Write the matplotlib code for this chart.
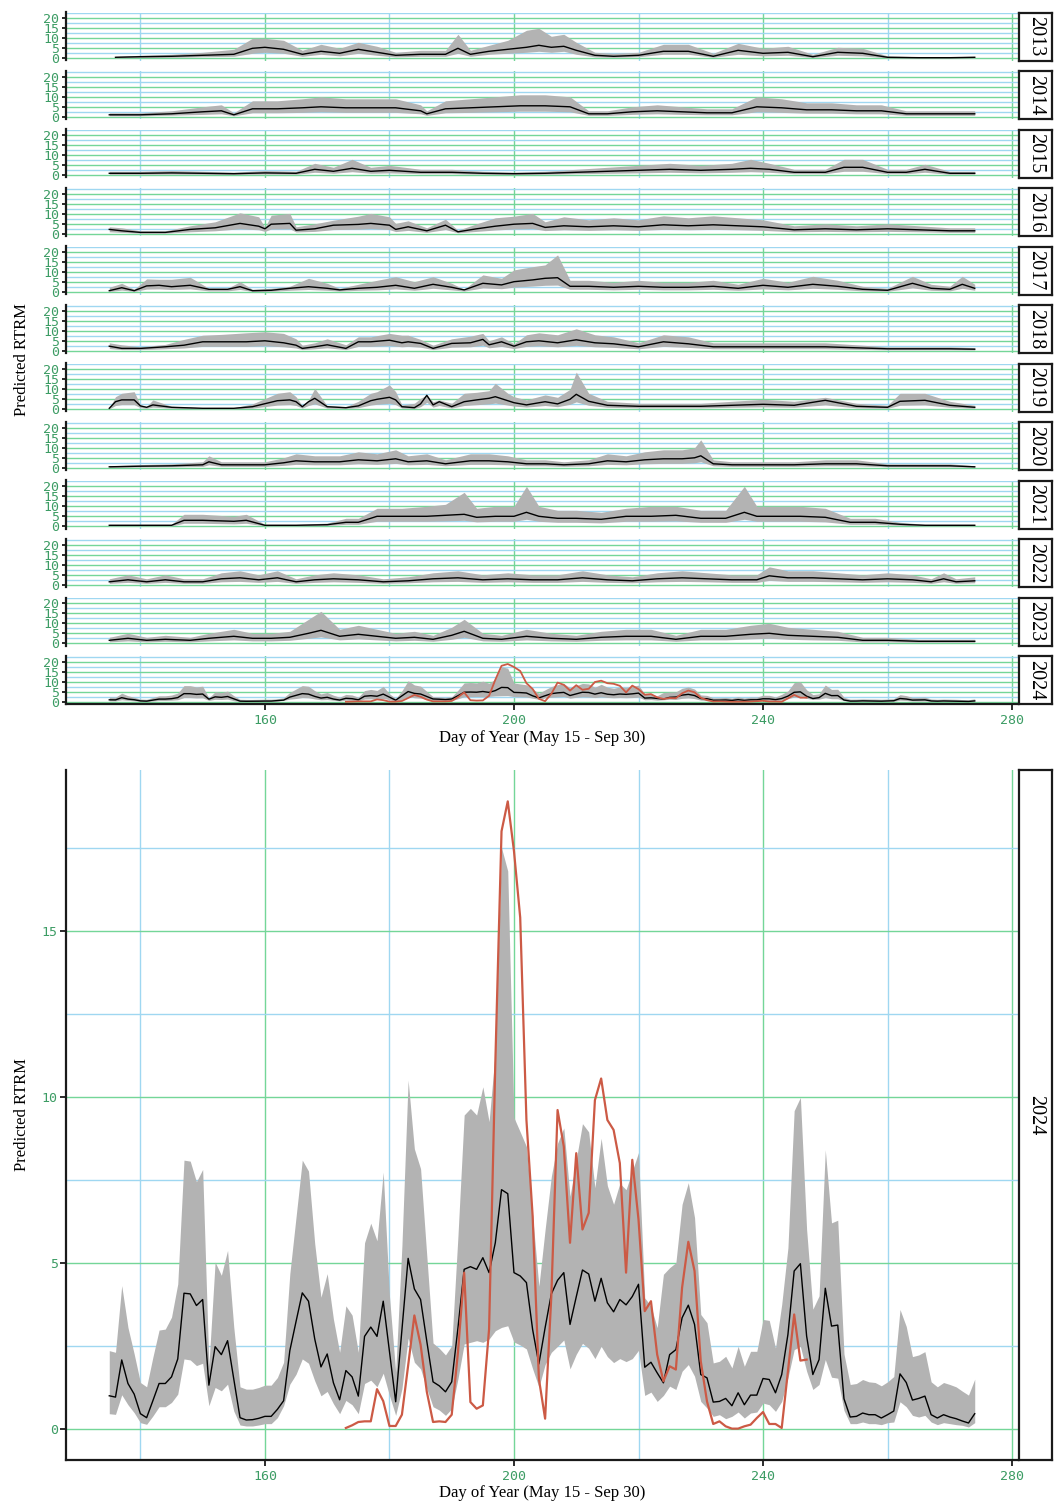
import numpy as np
import matplotlib
matplotlib.use("Agg")
import matplotlib.pyplot as plt

# ---------------- data ----------------
years = [2013, 2014, 2015, 2016, 2017, 2018, 2019, 2020, 2021, 2022, 2023]

d_2013 = [136, 140, 145, 150, 155, 158, 160, 163, 166, 169, 172, 175, 178, 181, 185, 189, 191, 193, 196, 199, 202, 204, 206, 208, 210, 213, 216, 220, 224, 228, 232, 236, 240, 244, 248, 252, 256, 260, 265, 270, 274]
m_2013 = [0.5, 0.8, 1.0, 1.5, 2.0, 5.0, 5.5, 4.5, 2.0, 3.5, 2.5, 4.5, 3.0, 1.5, 2.0, 2.0, 5.0, 2.0, 3.5, 4.5, 5.5, 6.5, 5.5, 6.0, 4.0, 1.5, 1.0, 1.5, 3.5, 3.5, 1.0, 4.0, 2.5, 3.0, 0.8, 3.0, 2.5, 0.5, 0.3, 0.3, 0.5]
l_2013 = [0.2, 0.4, 0.5, 0.8, 1.0, 2.5, 3.0, 2.5, 1.0, 2.0, 1.2, 2.5, 1.5, 0.7, 1.0, 1.0, 2.5, 1.0, 2.0, 2.5, 3.0, 3.5, 3.0, 3.5, 2.0, 0.7, 0.5, 0.8, 2.0, 2.0, 0.5, 2.0, 1.2, 1.5, 0.4, 1.5, 1.2, 0.2, 0.1, 0.1, 0.2]
u_2013 = [1.0, 1.5, 2.0, 3.0, 4.5, 10, 10, 9, 4, 7, 5, 8, 6, 3, 4, 4, 12, 4, 6.5, 9, 14, 15, 11, 12, 8, 3, 2.5, 3, 7, 7, 2.5, 7.5, 5, 6, 2, 5.5, 5, 1.2, 0.8, 0.8, 1.0]

d_2014 = [135, 140, 145, 150, 153, 155, 158, 162, 166, 169, 173, 177, 181, 185, 186, 189, 193, 197, 201, 205, 209, 212, 215, 219, 223, 227, 231, 235, 239, 243, 247, 251, 255, 259, 263, 267, 271, 274]
m_2014 = [1.0, 1.0, 1.5, 2.5, 3.0, 1.0, 4.0, 4.0, 4.5, 5.0, 4.5, 4.5, 4.5, 3.0, 1.5, 4.0, 4.5, 5.0, 5.5, 5.5, 5.0, 1.5, 1.5, 2.5, 3.0, 2.5, 2.0, 2.0, 5.0, 4.5, 3.5, 3.5, 3.0, 3.0, 1.5, 1.5, 1.5, 1.5]
l_2014 = [0.5, 0.5, 0.8, 1.2, 1.5, 0.5, 2.0, 2.0, 2.2, 2.5, 2.2, 2.2, 2.2, 1.5, 0.7, 2.0, 2.2, 2.5, 2.8, 2.8, 2.5, 0.7, 0.7, 1.2, 1.5, 1.2, 1.0, 1.0, 2.5, 2.2, 1.8, 1.8, 1.5, 1.5, 0.7, 0.7, 0.7, 0.7]
u_2014 = [2.0, 2.0, 3.0, 5.0, 6.0, 2.0, 8.0, 8.0, 9.0, 10.0, 9.0, 9.0, 9.0, 6.0, 3.0, 8.0, 9.0, 10.0, 11.0, 11.0, 10.0, 3.0, 3.0, 5.0, 6.0, 5.0, 4.0, 4.0, 10.0, 9.0, 7.0, 7.0, 6.0, 6.0, 3.0, 3.0, 3.0, 3.0]

d_2015 = [135, 140, 145, 150, 155, 160, 165, 168, 171, 174, 177, 180, 185, 190, 195, 200, 205, 210, 215, 220, 225, 230, 235, 238, 241, 245, 250, 253, 256, 260, 263, 266, 270, 274]
m_2015 = [1.0, 1.0, 1.2, 1.0, 0.8, 1.2, 1.0, 3.0, 2.0, 3.5, 2.0, 2.5, 1.5, 1.5, 1.0, 0.8, 1.0, 1.5, 2.0, 2.5, 3.0, 2.5, 3.0, 3.5, 3.0, 1.5, 1.5, 4.0, 4.0, 1.5, 1.5, 3.0, 1.0, 1.0]
l_2015 = [0.5, 0.5, 0.6, 0.5, 0.4, 0.6, 0.5, 1.5, 1.0, 1.8, 1.0, 1.2, 0.8, 0.8, 0.5, 0.4, 0.5, 0.8, 1.0, 1.2, 1.5, 1.2, 1.5, 1.8, 1.5, 0.8, 0.8, 2.0, 2.0, 0.8, 0.8, 1.5, 0.5, 0.5]
u_2015 = [2.0, 2.0, 2.4, 2.0, 1.6, 2.4, 2.0, 6.0, 4.0, 8.0, 4.0, 5.0, 3.0, 3.0, 2.0, 1.6, 2.0, 3.0, 4.0, 5.0, 6.0, 5.0, 6.0, 8.0, 6.0, 3.0, 3.0, 8.0, 8.0, 3.0, 3.0, 5.5, 2.0, 2.0]

d_2016 = [135, 137, 140, 144, 148, 152, 156, 159, 160, 161, 164, 165, 168, 171, 175, 177, 180, 181, 183, 186, 189, 191, 194, 197, 200, 203, 205, 208, 212, 216, 220, 224, 228, 232, 236, 240, 245, 250, 255, 260, 265, 270, 274]
m_2016 = [2.2, 1.5, 0.7, 0.7, 2.2, 3.0, 5.2, 3.8, 2.5, 4.8, 5.2, 1.8, 2.5, 4.3, 4.7, 5.2, 4.3, 2.2, 3.5, 1.5, 4.3, 1.0, 2.5, 3.8, 4.8, 5.2, 3.2, 4.0, 3.5, 4.0, 3.5, 4.5, 4.0, 4.5, 4.0, 3.5, 2.0, 2.5, 2.0, 2.5, 2.0, 1.5, 1.5]
l_2016 = [1.0, 0.7, 0.3, 0.3, 1.0, 1.5, 2.5, 2.0, 1.2, 2.4, 2.5, 0.9, 1.2, 2.1, 2.3, 2.6, 2.1, 1.1, 1.7, 0.7, 2.1, 0.5, 1.2, 1.9, 2.4, 2.6, 1.6, 2.0, 1.7, 2.0, 1.7, 2.2, 2.0, 2.2, 2.0, 1.7, 1.0, 1.2, 1.0, 1.2, 1.0, 0.7, 0.7]
u_2016 = [3.5, 3.0, 1.5, 1.5, 4.0, 6.0, 10.5, 8.5, 3.2, 9.3, 10.2, 3.5, 5.0, 6.8, 8.8, 10.2, 8.5, 5.2, 6.5, 3.0, 7.3, 1.8, 5.0, 8.0, 8.8, 10.2, 6.0, 8.5, 7.0, 8.0, 7.0, 9.0, 8.0, 9.0, 8.0, 7.0, 4.0, 5.0, 4.0, 5.0, 4.0, 3.0, 3.0]

d_2017 = [135, 137, 139, 141, 143, 145, 148, 151, 154, 156, 158, 161, 164, 167, 170, 172, 175, 178, 181, 184, 187, 190, 192, 195, 198, 200, 203, 205, 207, 209, 212, 216, 220, 224, 228, 232, 236, 240, 244, 248, 252, 256, 260, 264, 267, 270, 272, 274]
m_2017 = [0.8, 2.3, 0.8, 3.2, 3.5, 2.8, 3.5, 1.5, 1.5, 2.8, 0.8, 1.0, 2.0, 2.8, 2.0, 1.2, 2.0, 2.5, 3.5, 2.0, 4.0, 2.5, 1.2, 4.5, 3.7, 5.3, 6.2, 7.0, 7.3, 3.0, 3.0, 2.5, 3.0, 2.5, 2.5, 3.0, 2.0, 3.5, 2.5, 4.0, 3.0, 1.5, 1.0, 4.5, 2.0, 1.5, 4.0, 2.0]
l_2017 = [0.4, 1.1, 0.4, 1.6, 1.7, 1.4, 1.7, 0.7, 0.7, 1.4, 0.4, 0.5, 1.0, 1.4, 1.0, 0.6, 1.0, 1.2, 1.7, 1.0, 2.0, 1.2, 0.6, 2.2, 1.8, 2.6, 3.1, 3.5, 3.6, 1.5, 1.5, 1.2, 1.5, 1.2, 1.2, 1.5, 1.0, 1.7, 1.2, 2.0, 1.5, 0.7, 0.5, 2.2, 1.0, 0.7, 2.0, 1.0]
u_2017 = [2.5, 4.5, 1.5, 6.7, 6.5, 6.5, 7.5, 2.0, 2.0, 5.3, 1.5, 2.0, 3.0, 7.0, 4.5, 2.0, 4.0, 6.0, 7.8, 5.3, 7.8, 4.5, 1.5, 8.7, 7.0, 11.2, 12.8, 13.7, 18.7, 6.0, 6.0, 5.0, 6.0, 5.0, 5.0, 6.0, 4.0, 7.0, 5.0, 8.0, 6.0, 3.0, 2.0, 8.0, 4.0, 3.0, 8.0, 4.0]

d_2018 = [135, 137, 140, 144, 147, 150, 153, 157, 160, 163, 165, 166, 168, 170, 173, 175, 177, 180, 182, 183, 185, 187, 190, 193, 195, 196, 198, 200, 202, 204, 207, 210, 213, 216, 220, 224, 228, 232, 236, 240, 245, 250, 255, 260, 265, 270, 274]
m_2018 = [2.3, 1.2, 1.2, 2.0, 2.8, 4.5, 4.5, 4.5, 5.0, 4.0, 2.8, 1.2, 2.0, 3.0, 1.2, 4.5, 4.5, 5.3, 4.0, 4.5, 3.7, 1.2, 3.7, 4.0, 5.7, 3.0, 4.5, 2.3, 4.5, 5.0, 4.0, 5.5, 4.0, 3.5, 2.0, 4.5, 3.5, 2.0, 2.0, 2.0, 2.0, 2.0, 1.5, 1.0, 1.0, 1.0, 0.8]
l_2018 = [1.1, 0.6, 0.6, 1.0, 1.4, 2.2, 2.2, 2.2, 2.5, 2.0, 1.4, 0.6, 1.0, 1.5, 0.6, 2.2, 2.2, 2.6, 2.0, 2.2, 1.8, 0.6, 1.8, 2.0, 2.8, 1.5, 2.2, 1.1, 2.2, 2.5, 2.0, 2.7, 2.0, 1.7, 1.0, 2.2, 1.7, 1.0, 1.0, 1.0, 1.0, 1.0, 0.7, 0.5, 0.5, 0.5, 0.4]
u_2018 = [4.0, 3.0, 2.0, 3.2, 5.7, 7.8, 8.2, 9.0, 9.5, 8.7, 6.0, 2.8, 4.0, 6.0, 3.0, 7.0, 7.0, 8.7, 7.8, 7.8, 5.7, 2.8, 6.0, 7.3, 8.7, 5.0, 7.0, 3.5, 8.0, 9.0, 8.0, 11.0, 8.0, 7.0, 4.0, 8.0, 7.0, 4.0, 4.0, 4.0, 4.0, 4.0, 3.0, 2.0, 2.0, 2.0, 1.6]

d_2019 = [135, 136, 137, 139, 140, 141, 142, 145, 150, 155, 158, 162, 164, 165, 166, 167, 168, 170, 173, 175, 177, 178, 180, 181, 182, 184, 185, 186, 187, 188, 190, 192, 194, 196, 197, 199, 200, 202, 205, 207, 209, 210, 212, 215, 220, 225, 230, 235, 240, 245, 250, 255, 260, 262, 266, 270, 274]
m_2019 = [0.5, 3.8, 4.7, 4.7, 1.7, 1.0, 2.2, 1.0, 0.5, 0.5, 1.3, 4.3, 4.7, 3.8, 1.3, 3.8, 5.5, 1.3, 0.8, 1.7, 4.3, 5.0, 6.0, 4.7, 1.3, 0.8, 2.7, 7.0, 2.2, 3.8, 1.3, 3.8, 4.7, 5.5, 6.3, 4.3, 3.3, 2.2, 3.8, 2.7, 5.0, 7.5, 4.0, 2.0, 1.5, 1.5, 1.5, 2.0, 2.5, 2.0, 4.5, 1.5, 1.0, 4.0, 4.5, 2.0, 1.0]
l_2019 = [0.2, 1.9, 2.3, 2.3, 0.8, 0.5, 1.1, 0.5, 0.2, 0.2, 0.6, 2.1, 2.3, 1.9, 0.6, 1.9, 2.7, 0.6, 0.4, 0.8, 2.1, 2.5, 3.0, 2.3, 0.6, 0.4, 1.3, 3.5, 1.1, 1.9, 0.6, 1.9, 2.3, 2.7, 3.1, 2.1, 1.6, 1.1, 1.9, 1.3, 2.5, 3.7, 2.0, 1.0, 0.7, 0.7, 0.7, 1.0, 1.2, 1.0, 2.2, 0.7, 0.5, 2.0, 2.2, 1.0, 0.5]
u_2019 = [0.5, 6.3, 8.0, 8.8, 2.2, 1.3, 4.7, 1.5, 0.8, 0.8, 2.7, 8.0, 8.8, 6.3, 1.8, 4.5, 10.5, 1.8, 1.3, 4.0, 8.0, 8.8, 12.2, 8.8, 2.2, 3.0, 5.5, 7.2, 3.8, 4.7, 3.0, 8.0, 8.5, 9.3, 13.0, 8.0, 6.3, 4.7, 7.2, 6.0, 10.0, 18.6, 8.0, 4.0, 3.0, 3.0, 3.0, 4.0, 5.0, 4.0, 6.0, 3.0, 2.0, 8.0, 8.0, 4.0, 2.0]

d_2020 = [135, 140, 145, 150, 151, 153, 157, 160, 163, 165, 168, 172, 175, 178, 181, 183, 186, 189, 193, 196, 199, 202, 205, 208, 212, 215, 218, 221, 224, 227, 229, 230, 232, 235, 240, 245, 250, 255, 260, 265, 270, 274]
m_2020 = [0.5, 0.8, 1.0, 1.5, 3.0, 1.5, 1.5, 1.5, 2.5, 3.5, 3.0, 3.0, 4.0, 3.5, 4.5, 3.0, 3.5, 2.0, 3.5, 3.5, 3.0, 2.0, 2.0, 1.5, 2.0, 3.5, 3.0, 4.0, 4.5, 4.5, 5.0, 6.0, 2.0, 1.5, 1.5, 1.5, 2.0, 2.0, 1.0, 1.0, 1.0, 0.5]
l_2020 = [0.2, 0.4, 0.5, 0.7, 1.5, 0.7, 0.7, 0.7, 1.2, 1.7, 1.5, 1.5, 2.0, 1.7, 2.2, 1.5, 1.7, 1.0, 1.7, 1.7, 1.5, 1.0, 1.0, 0.7, 1.0, 1.7, 1.5, 2.0, 2.2, 2.2, 2.5, 3.0, 1.0, 0.7, 0.7, 0.7, 1.0, 1.0, 0.5, 0.5, 0.5, 0.2]
u_2020 = [1.0, 1.6, 2.0, 3.0, 6.0, 3.0, 3.0, 3.0, 5.0, 7.0, 6.0, 6.0, 8.0, 7.0, 9.0, 6.0, 7.0, 4.0, 7.0, 7.0, 6.0, 4.0, 4.0, 3.0, 4.0, 7.0, 6.0, 8.0, 9.0, 9.0, 10.0, 14.0, 4.0, 3.0, 3.0, 3.0, 4.0, 4.0, 2.0, 2.0, 2.0, 1.0]

d_2021 = [135, 140, 145, 147, 150, 155, 157, 160, 165, 170, 173, 175, 178, 182, 186, 189, 192, 194, 197, 200, 202, 204, 207, 210, 214, 218, 222, 226, 230, 234, 237, 239, 242, 246, 250, 254, 258, 262, 266, 270, 274]
m_2021 = [0.5, 0.5, 0.5, 3.0, 3.0, 2.5, 3.0, 0.5, 0.5, 0.8, 2.0, 2.0, 5.0, 5.0, 5.0, 5.5, 6.0, 4.5, 5.0, 5.0, 7.0, 5.0, 4.0, 4.0, 3.5, 5.0, 5.0, 5.5, 4.0, 4.0, 7.0, 5.0, 5.0, 5.0, 4.5, 2.0, 2.0, 1.0, 0.5, 0.5, 0.5]
l_2021 = [0.2, 0.2, 0.2, 1.5, 1.5, 1.2, 1.5, 0.2, 0.2, 0.4, 1.0, 1.0, 2.5, 2.5, 2.5, 2.7, 3.0, 2.2, 2.5, 2.5, 3.5, 2.5, 2.0, 2.0, 1.7, 2.5, 2.5, 2.7, 2.0, 2.0, 3.5, 2.5, 2.5, 2.5, 2.2, 1.0, 1.0, 0.5, 0.2, 0.2, 0.2]
u_2021 = [1.0, 1.0, 1.0, 6.0, 6.0, 5.0, 6.0, 1.0, 1.0, 1.6, 4.0, 4.0, 9.0, 9.0, 10.0, 11.0, 17.0, 9.0, 10.0, 10.0, 20.0, 10.0, 8.0, 8.0, 7.0, 9.0, 10.0, 10.0, 8.0, 8.0, 20.0, 10.0, 10.0, 10.0, 9.0, 4.0, 4.0, 2.0, 1.0, 1.0, 1.0]

d_2022 = [135, 138, 141, 144, 147, 150, 153, 156, 159, 162, 165, 168, 171, 175, 179, 183, 187, 191, 195, 199, 203, 207, 211, 215, 219, 223, 227, 231, 235, 239, 241, 244, 248, 252, 256, 260, 264, 267, 269, 271, 274]
m_2022 = [1.5, 2.5, 1.5, 2.5, 1.5, 1.5, 3.0, 3.5, 2.5, 3.5, 1.5, 2.5, 3.0, 2.5, 1.5, 2.0, 3.0, 3.5, 2.5, 3.0, 2.5, 2.5, 3.5, 2.5, 2.0, 3.0, 3.5, 3.0, 2.5, 2.5, 4.5, 3.5, 3.5, 3.0, 2.5, 3.0, 2.5, 1.5, 3.0, 1.5, 2.0]
l_2022 = [0.7, 1.2, 0.7, 1.2, 0.7, 0.7, 1.5, 1.7, 1.2, 1.7, 0.7, 1.2, 1.5, 1.2, 0.7, 1.0, 1.5, 1.7, 1.2, 1.5, 1.2, 1.2, 1.7, 1.2, 1.0, 1.5, 1.7, 1.5, 1.2, 1.2, 2.2, 1.7, 1.7, 1.5, 1.2, 1.5, 1.2, 0.7, 1.5, 0.7, 1.0]
u_2022 = [3.0, 5.0, 3.0, 5.0, 3.0, 3.0, 6.0, 7.0, 5.0, 7.0, 3.0, 5.0, 6.0, 5.0, 3.0, 4.0, 6.0, 7.0, 5.0, 6.0, 5.0, 5.0, 7.0, 5.0, 4.0, 6.0, 7.0, 6.0, 5.0, 5.0, 9.0, 7.0, 7.0, 6.0, 5.0, 6.0, 5.0, 3.0, 6.0, 3.0, 4.0]

d_2023 = [135, 138, 141, 144, 148, 151, 155, 158, 161, 164, 167, 169, 172, 175, 178, 181, 184, 187, 190, 192, 195, 198, 202, 206, 210, 214, 218, 222, 226, 230, 234, 238, 241, 244, 248, 252, 256, 260, 265, 270, 274]
m_2023 = [1.5, 2.5, 1.5, 2.0, 1.5, 2.5, 3.5, 2.5, 2.5, 3.0, 5.0, 6.5, 3.5, 4.5, 3.5, 2.5, 3.0, 2.0, 4.0, 6.0, 2.5, 2.0, 3.5, 2.5, 2.0, 3.0, 3.5, 3.5, 2.0, 3.5, 3.5, 4.5, 5.0, 4.0, 3.5, 3.0, 1.5, 1.5, 1.0, 1.0, 1.0]
l_2023 = [0.7, 1.2, 0.7, 1.0, 0.7, 1.2, 1.7, 1.2, 1.2, 1.5, 2.5, 3.2, 1.7, 2.2, 1.7, 1.2, 1.5, 1.0, 2.0, 3.0, 1.2, 1.0, 1.7, 1.2, 1.0, 1.5, 1.7, 1.7, 1.0, 1.7, 1.7, 2.2, 2.5, 2.0, 1.7, 1.5, 0.7, 0.7, 0.5, 0.5, 0.5]
u_2023 = [3.0, 5.0, 3.0, 4.0, 3.0, 5.0, 7.0, 5.0, 5.0, 6.0, 12.0, 16.0, 7.0, 9.0, 7.0, 5.0, 6.0, 4.0, 8.0, 12.0, 5.0, 4.0, 7.0, 5.0, 4.0, 6.0, 7.0, 7.0, 4.0, 7.0, 7.0, 9.0, 10.0, 8.0, 7.0, 6.0, 3.0, 3.0, 2.0, 2.0, 2.0]

# 2024, daily from day 135 to 274
d_2024 = list(range(135, 275))
m_2024 = [0.99, 0.95, 2.07, 1.36, 1.04, 0.45, 0.33, 0.84, 1.36, 1.36,
          1.56, 2.10, 4.08, 4.06, 3.71, 3.89, 1.31, 2.47, 2.23, 2.65,
          1.49, 0.33, 0.26, 0.27, 0.31, 0.37, 0.37, 0.58, 0.84, 2.35,
          3.23, 4.09, 3.84, 2.70, 1.86, 2.25, 1.38, 0.87, 1.75, 1.56,
          0.98, 2.78, 3.06, 2.78, 3.84, 2.32, 0.81, 2.98, 5.13, 4.21,
          3.89, 2.63, 1.41, 1.29, 1.11, 1.41, 3.03, 4.80, 4.88, 4.80,
          5.15, 4.70, 5.60, 7.20, 7.08, 4.70, 4.60, 4.40, 2.98, 1.95,
          3.04, 4.06, 4.47, 4.70, 3.14, 3.97, 4.78, 4.66, 3.84, 4.53,
          3.79, 3.52, 3.89, 3.73, 3.98, 4.35, 1.85, 2.00, 1.68, 1.38,
          2.23, 2.38, 3.34, 3.72, 3.14, 1.63, 1.53, 0.80, 0.82, 0.91,
          0.69, 1.08, 0.72, 1.01, 1.01, 1.51, 1.48, 1.08, 1.63, 2.84,
          4.75, 4.97, 2.79, 1.63, 2.08, 4.23, 3.09, 3.12, 0.90, 0.35,
          0.37, 0.47, 0.42, 0.42, 0.32, 0.42, 0.53, 1.65, 1.39, 0.86,
          0.91, 0.98, 0.42, 0.32, 0.42, 0.35, 0.30, 0.23, 0.17, 0.45]
l_2024 = [0.45, 0.43, 1.02, 0.72, 0.48, 0.18, 0.13, 0.38, 0.66, 0.66,
          0.79, 1.04, 2.10, 2.07, 1.90, 1.97, 0.69, 1.24, 1.14, 1.34,
          0.53, 0.11, 0.08, 0.08, 0.11, 0.15, 0.15, 0.33, 0.69, 1.34,
          1.64, 2.10, 1.97, 1.44, 0.99, 1.12, 0.75, 0.45, 0.85, 0.72,
          0.45, 1.36, 1.46, 1.26, 1.67, 1.00, 0.40, 1.20, 2.73, 2.00,
          1.80, 1.20, 0.66, 0.56, 0.40, 0.60, 1.50, 2.55, 2.60, 2.65,
          2.60, 2.70, 2.95, 3.05, 3.10, 2.61, 2.52, 2.40, 1.80, 1.25,
          1.93, 2.30, 2.48, 2.67, 1.80, 2.24, 2.57, 2.42, 2.11, 2.48,
          2.17, 1.99, 2.11, 2.02, 2.11, 2.36, 1.00, 1.10, 0.82, 1.00,
          1.28, 1.18, 1.73, 1.93, 1.58, 0.82, 0.62, 0.37, 0.42, 0.30,
          0.37, 0.50, 0.32, 0.47, 0.50, 0.77, 0.72, 0.52, 0.82, 1.53,
          2.38, 2.48, 1.73, 1.18, 1.33, 2.08, 1.55, 1.52, 0.55, 0.15,
          0.15, 0.20, 0.15, 0.15, 0.12, 0.18, 0.20, 0.81, 0.66, 0.40,
          0.35, 0.40, 0.20, 0.12, 0.18, 0.15, 0.12, 0.10, 0.05, 0.18]
u_2024 = [2.35, 2.30, 4.31, 3.05, 2.25, 1.39, 1.26, 2.15, 2.97, 3.00,
          3.36, 4.36, 8.09, 8.06, 7.44, 7.81, 1.90, 5.02, 4.62, 5.37,
          3.05, 1.26, 1.19, 1.19, 1.24, 1.31, 1.31, 1.54, 2.00, 4.67,
          6.38, 8.09, 7.76, 5.57, 3.96, 4.67, 3.30, 2.30, 3.70, 3.42,
          2.30, 5.60, 6.19, 5.66, 7.73, 4.00, 1.70, 5.50, 10.50, 8.43,
          7.83, 5.20, 2.58, 2.42, 2.22, 2.50, 5.80, 9.45, 9.65, 9.45,
          10.30, 9.25, 11.36, 17.50, 16.80, 9.37, 8.94, 8.50, 6.40, 4.29,
          6.00, 7.60, 8.60, 9.06, 7.00, 8.10, 9.19, 8.94, 7.26, 8.75,
          7.32, 6.76, 7.39, 7.20, 7.76, 8.32, 3.94, 3.69, 3.04, 4.65,
          4.85, 5.00, 6.76, 7.41, 6.36, 3.44, 3.19, 1.98, 2.03, 2.18,
          1.83, 2.48, 1.88, 2.33, 2.33, 3.29, 3.26, 2.43, 3.74, 5.45,
          9.58, 9.98, 6.00, 3.60, 4.00, 8.40, 6.20, 6.28, 2.25, 1.33,
          1.36, 1.48, 1.41, 1.39, 1.29, 1.41, 1.57, 3.59, 3.08, 2.17,
          2.22, 2.32, 1.41, 1.26, 1.39, 1.33, 1.26, 1.13, 1.01, 1.49]

obs_days_2024 = list(range(173, 248))
obs_2024 = [0.02, 0.10, 0.20, 0.22, 0.22, 1.19, 0.83, 0.08, 0.08, 0.42,
            1.90, 3.41, 2.53, 1.11, 0.20, 0.22, 0.20, 0.42, 2.30, 4.70,
            0.80, 0.60, 0.70, 3.00, 11.0, 18.0, 18.9, 17.4, 15.4, 9.30,
            6.40, 1.50, 0.30, 4.00, 9.60, 8.50, 5.60, 8.30, 6.00, 6.50,
            9.90, 10.55, 9.30, 9.00, 8.00, 4.70, 8.10, 6.30, 3.54, 3.84,
            2.23, 1.43, 1.88, 1.78, 4.25, 5.63, 4.75, 2.03, 0.82, 0.14,
            0.22, 0.07, 0.00, 0.00, 0.07, 0.12, 0.32, 0.50, 0.14, 0.14,
            0.02, 1.73, 3.44, 2.05, 2.08]

year_data = {
    2013: (d_2013, m_2013, l_2013, u_2013),
    2014: (d_2014, m_2014, l_2014, u_2014),
    2015: (d_2015, m_2015, l_2015, u_2015),
    2016: (d_2016, m_2016, l_2016, u_2016),
    2017: (d_2017, m_2017, l_2017, u_2017),
    2018: (d_2018, m_2018, l_2018, u_2018),
    2019: (d_2019, m_2019, l_2019, u_2019),
    2020: (d_2020, m_2020, l_2020, u_2020),
    2021: (d_2021, m_2021, l_2021, u_2021),
    2022: (d_2022, m_2022, l_2022, u_2022),
    2023: (d_2023, m_2023, l_2023, u_2023),
    2024: (d_2024, m_2024, l_2024, u_2024),
}

x_major = [160, 200, 240, 280]
x_minor = [140, 180, 220, 260]

# ---------------- style ----------------
W, H = 1063, 1510
DPI = 100
fig = plt.figure(figsize=(W / DPI, H / DPI), dpi=DPI)
fig.patch.set_facecolor("white")

GREEN_GRID = "#74d698"
BLUE_GRID = "#9fd7f1"
TICK_GREEN = "#3c9c64"
BAND = "#b3b3b3"
RED = "#cc5a45"
SERIF = "Liberation Serif"
MONO = "DejaVu Sans Mono"

XLIM = (128.05, 280.95)


def px_axes(left, top, right, bottom):
    return fig.add_axes([left / W, 1 - bottom / H, (right - left) / W, (bottom - top) / H])


def style_axes(ax, ymajor, yminor, show_x):
    ax.set_xlim(*XLIM)
    ax.set_xticks(x_major)
    ax.set_xticks(x_minor, minor=True)
    ax.set_yticks(ymajor)
    ax.set_yticks(yminor, minor=True)
    ax.grid(True, which="major", color=GREEN_GRID, lw=1.0)
    ax.grid(True, which="minor", color=BLUE_GRID, lw=1.0)
    ax.set_axisbelow(True)
    for s in ["top", "right"]:
        ax.spines[s].set_visible(False)
    ax.spines["left"].set_linewidth(1.6)
    ax.spines["left"].set_color("#1a1a1a")
    ax.spines["bottom"].set_linewidth(1.6)
    ax.spines["bottom"].set_color("#1a1a1a")
    ax.spines["bottom"].set_visible(show_x)
    ax.tick_params(axis="y", which="major", length=3, width=1.3, color="#1a1a1a",
                   labelcolor=TICK_GREEN, labelsize=9.5, pad=2)
    ax.tick_params(axis="x", which="major", length=4 if show_x else 0, width=1.3,
                   color="#1a1a1a", labelcolor=TICK_GREEN, labelsize=9.5, pad=3,
                   labelbottom=show_x)
    ax.tick_params(which="minor", length=0)
    for lab in ax.get_xticklabels() + ax.get_yticklabels():
        lab.set_family(MONO)


def strip(top, bottom, text):
    sax = px_axes(1019, top, 1052, bottom)
    sax.set_xticks([])
    sax.set_yticks([])
    for s in sax.spines.values():
        s.set_linewidth(1.6)
        s.set_color("#1a1a1a")
    sax.text(0.5, 0.5, text, rotation=270, ha="center", va="center",
             family=SERIF, fontsize=14.5, transform=sax.transAxes)


# ---------------- top: small multiples ----------------
all_years = years + [2024]
for i, yr in enumerate(all_years):
    y0 = 58.3 + 58.5 * i
    top, bot = y0 - 45.8, y0 + 2.2
    ax = px_axes(66, top, 1018, bot)
    d, m, lo, hi = year_data[yr]
    ax.fill_between(d, lo, hi, color=BAND, lw=0, zorder=2)
    ax.plot(d, m, color="black", lw=1.0, zorder=3)
    if yr == 2024:
        ax.plot(obs_days_2024, obs_2024, color=RED, lw=1.3, zorder=4)
    ax.set_ylim(-1.1, 22.9)
    style_axes(ax, [0, 5, 10, 15, 20], [2.5, 7.5, 12.5, 17.5, 22.5], show_x=(yr == 2024))
    strip(top, bot, str(yr))

fig.text(22 / W, 1 - 360 / H, "Predicted RTRM", rotation=90, ha="center", va="center",
         family=SERIF, fontsize=12)
fig.text(542 / W, 1 - 738 / H, "Day of Year (May 15 - Sep 30)", ha="center", va="center",
         family=SERIF, fontsize=12)

# ---------------- bottom: 2024 detail ----------------
ax = px_axes(66, 770, 1018, 1460)
ax.fill_between(d_2024, l_2024, u_2024, color=BAND, lw=0, zorder=2)
ax.plot(d_2024, m_2024, color="black", lw=1.0, zorder=3)
ax.plot(obs_days_2024, obs_2024, color=RED, lw=1.6, zorder=4)
ax.set_ylim(-0.945, 19.845)
style_axes(ax, [0, 5, 10, 15], [2.5, 7.5, 12.5, 17.5], show_x=True)
ax.tick_params(axis="y", which="major", length=4)
strip(770, 1460, "2024")

fig.text(22 / W, 1 - 1115 / H, "Predicted RTRM", rotation=90, ha="center", va="center",
         family=SERIF, fontsize=12)
fig.text(542 / W, 1 - 1493 / H, "Day of Year (May 15 - Sep 30)", ha="center", va="center",
         family=SERIF, fontsize=12)

fig.savefig("out.png", dpi=DPI, facecolor="white")
